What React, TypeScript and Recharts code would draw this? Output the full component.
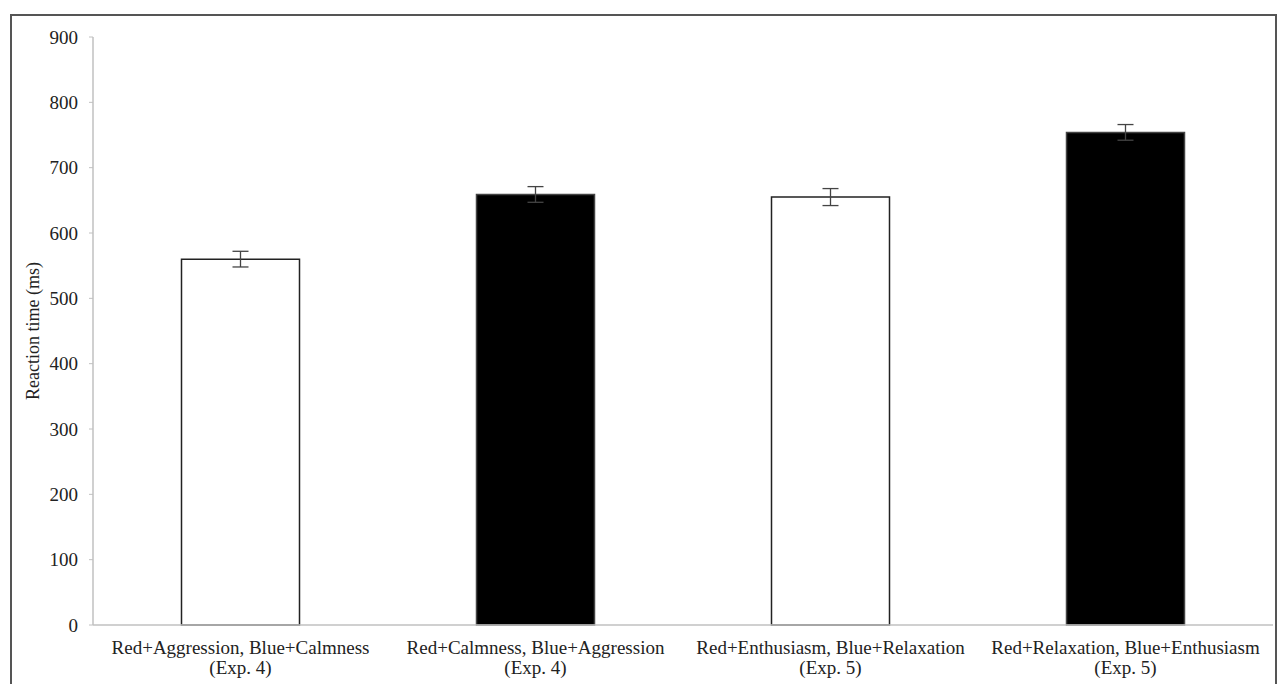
import { BarChart, Bar, XAxis, YAxis, Cell, ErrorBar } from "recharts";

const conditions = [
  "Red+Aggression, Blue+Calmness",
  "Red+Calmness, Blue+Aggression",
  "Red+Enthusiasm, Blue+Relaxation",
  "Red+Relaxation, Blue+Enthusiasm",
];
const experiments = ["(Exp. 4)", "(Exp. 4)", "(Exp. 5)", "(Exp. 5)"];
const reactionTimes = [560, 659, 655, 754];
const errors = [12, 12, 13, 12];
const barFills = ["#ffffff", "#000000", "#ffffff", "#000000"];
const yTicks = [0, 100, 200, 300, 400, 500, 600, 700, 800, 900];
const boundaryTicks = [0, 1, 2, 3, 4];

const data = conditions.map((c, i) => ({
  name: c,
  exp: experiments[i],
  rt: reactionTimes[i],
  err: errors[i],
}));

const FONT = "Liberation Serif";

function CategoryTick(props: any) {
  const { x, y, payload, index } = props;
  return (
    <text x={x} y={y} textAnchor="middle" style={{ fontFamily: FONT, fontSize: 19 }} fill="#222">
      <tspan x={x} dy={21}>{payload.value}</tspan>
      <tspan x={x} dy={20}>{experiments[index]}</tspan>
    </text>
  );
}

export default function App() {
  return (
    <div style={{ position: "absolute", left: 0, top: 0, width: 1277, height: 684, overflow: "hidden", background: "#fff", fontFamily: FONT }}>
      <div
        style={{
          position: "absolute",
          left: 10,
          top: 14,
          width: 1263,
          height: 700,
          border: "2px solid #555",
        }}
      />
      <div style={{ position: "absolute", left: 0, top: 0 }}>
        <BarChart
          width={1277}
          height={684}
          data={data}
          margin={{ top: 37, right: 4, left: 0, bottom: 0 }}
          barCategoryGap="30%"
          style={{ fontFamily: FONT }}
        >
          <XAxis
            dataKey="name"
            xAxisId="cat"
            height={59}
            axisLine={{ stroke: "#c0c0c0", strokeWidth: 1.5 }}
            tickLine={false}
            interval={0}
            tick={<CategoryTick />}
          />
          <XAxis
            xAxisId="bound"
            type="number"
            domain={[0, 4]}
            ticks={boundaryTicks}
            height={0}
            axisLine={false}
            tickLine={{ stroke: "#c0c0c0" }}
            tickSize={5}
            tickFormatter={() => ""}
          />
          <YAxis
            width={93}
            domain={[0, 900]}
            ticks={yTicks}
            interval={0}
            axisLine={{ stroke: "#c0c0c0", strokeWidth: 1.5 }}
            tickLine={{ stroke: "#c0c0c0" }}
            tickSize={4}
            tickMargin={11}
            tick={{ style: { fontFamily: FONT, fontSize: 19 }, fill: "#222" }}
            label={{
              content: (p: any) => {
                const vb = p.viewBox;
                const cy = vb.y + vb.height / 2;
                return (
                  <text
                    x={39}
                    y={cy}
                    transform={`rotate(-90, 39, ${cy})`}
                    textAnchor="middle"
                    style={{ fontFamily: FONT, fontSize: 18 }}
                    fill="#222"
                  >
                    Reaction time (ms)
                  </text>
                );
              },
            }}
          />
          <Bar dataKey="rt" xAxisId="cat" isAnimationActive={false}>
            {data.map((d, i) => (
              <Cell
                key={d.name}
                fill={barFills[i]}
                stroke={barFills[i] === "#ffffff" ? "#222" : "#444"}
                strokeWidth={1.5}
              />
            ))}
            <ErrorBar dataKey="err" width={8} stroke="#444" strokeWidth={1.3} />
          </Bar>
        </BarChart>
      </div>
    </div>
  );
}
